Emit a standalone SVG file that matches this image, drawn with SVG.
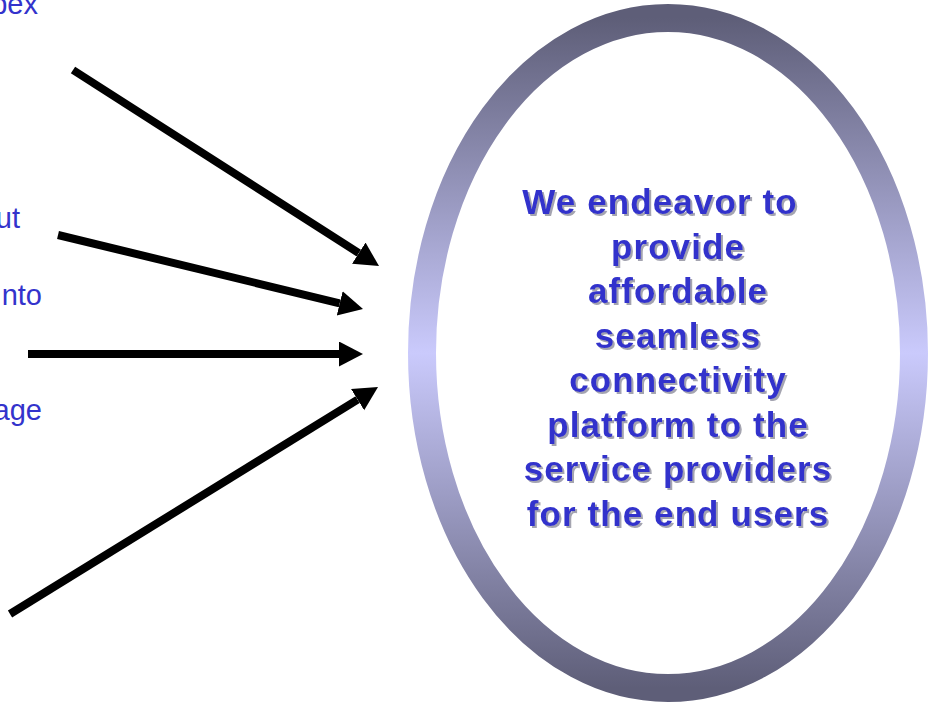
<svg xmlns="http://www.w3.org/2000/svg" width="930" height="712" viewBox="0 0 930 712">
<style>
.side{font-family:"Liberation Sans",Arial,sans-serif;font-size:29px;fill:#3333cc;}
.main{font-family:"Liberation Sans",Arial,sans-serif;font-size:35px;font-weight:bold;fill:#3333cc;letter-spacing:1.1px;text-anchor:middle;}
.arrow{stroke:#000;stroke-width:8;fill:none;marker-end:url(#head);}
</style>
<defs>
<linearGradient id="ringGrad" x1="0" y1="0" x2="0" y2="1">
<stop offset="0" stop-color="#5e5e78"/>
<stop offset="0.5" stop-color="#cacafc"/>
<stop offset="1" stop-color="#5e5e78"/>
</linearGradient>
<marker id="head" markerUnits="userSpaceOnUse" markerWidth="25" markerHeight="27" refX="0" refY="12.5" orient="auto">
<path d="M0,0 L24,12.5 L0,25 Z" fill="#000"/>
</marker>
<filter id="shadow" x="-5%" y="-5%" width="110%" height="120%">
<feDropShadow dx="2" dy="2" stdDeviation="0.6" flood-color="#9a9aa8" flood-opacity="0.9"/>
</filter>
</defs>
<rect width="930" height="712" fill="#fff"/>
<g id="side-labels">
<text class="side" x="38" y="14" text-anchor="end">pex</text>
<text class="side" x="20" y="228" text-anchor="end">ut</text>
<text class="side" x="42" y="305" text-anchor="end">nto</text>
<text class="side" x="42" y="420" text-anchor="end">age</text>
</g>
<g id="connectors">
<line class="arrow" x1="73" y1="70" x2="358.8" y2="253.1"/>
<line class="arrow" x1="58" y1="235" x2="339.7" y2="303.3"/>
<line class="arrow" x1="28" y1="354" x2="339" y2="354"/>
<line class="arrow" x1="10" y1="614" x2="357.6" y2="399.6"/>
</g>
<g id="mission">
<ellipse cx="668" cy="353" rx="246" ry="335" fill="#fff" stroke="url(#ringGrad)" stroke-width="28"/>
<g filter="url(#shadow)">
<text class="main" x="660" y="214">We endeavor to</text>
<text class="main" x="678" y="258.5">provide</text>
<text class="main" x="678" y="303">affordable</text>
<text class="main" x="678" y="347.5">seamless</text>
<text class="main" x="678" y="392">connectivity</text>
<text class="main" x="678" y="436.5">platform to the</text>
<text class="main" x="678" y="481">service providers</text>
<text class="main" x="678" y="525.5">for the end users</text>
</g>
</g>
</svg>
